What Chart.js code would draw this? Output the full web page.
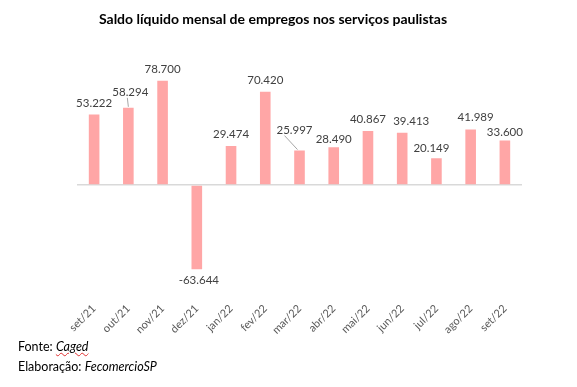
<!DOCTYPE html>
<html>
<head>
<meta charset="utf-8">
<script src="https://cdn.jsdelivr.net/npm/chart.js@4"></script>
<style>
  body { margin: 0; background: #fff; }
  #wrap { position: relative; width: 577px; height: 387px; }
  .note { position: absolute; left: 18px; font: 12.5px Lato, sans-serif; color: #000; }
  .caged { font-style: italic; text-decoration: underline wavy #e03030; text-decoration-thickness: 1px; }
</style>
</head>
<body>
<div id="wrap">
  <canvas id="saldoChart" width="577" height="387"></canvas>
  <div class="note" style="top:339px">Fonte: <span class="caged">Caged</span></div>
  <div class="note" style="top:359px">Elaboração: <i>FecomercioSP</i></div>
</div>
<script>
const months = ['set/21', 'out/21', 'nov/21', 'dez/21', 'jan/22', 'fev/22', 'mar/22',
                'abr/22', 'mai/22', 'jun/22', 'jul/22', 'ago/22', 'set/22'];
const saldo = [53222, 58294, 78700, -63644, 29474, 70420, 25997,
               28490, 40867, 39413, 20149, 41989, 33600];

function fmt(v) {
  return String(v).replace(/\B(?=(\d{3})+(?!\d))/g, '.');
}

// labels moved by hand in the original (dx, dy in px), some with a leader line
const nudge = { 1: [2, -4, true], 6: [-5, -9, true], 7: [0, 4], 9: [9, 0],
                10: [-5, 2], 11: [5, 0], 12: [0, 3] };

const valueLabels = {
  id: 'valueLabels',
  afterDatasetsDraw(chart) {
    const ctx = chart.ctx;
    const meta = chart.getDatasetMeta(0);
    ctx.save();
    ctx.font = '11.5px Lato, sans-serif';
    ctx.fillStyle = '#404040';
    ctx.textAlign = 'center';
    meta.data.forEach((bar, i) => {
      const v = saldo[i];
      const [dx, dy, leader] = nudge[i] || [0, 0, false];
      if (v >= 0) {
        ctx.textBaseline = 'alphabetic';
        const ty = bar.y - 8 + dy;
        ctx.fillText(fmt(v), bar.x + dx, ty);
        if (leader) {
          ctx.strokeStyle = '#a6a6a6';
          ctx.lineWidth = 1;
          ctx.beginPath();
          ctx.moveTo(bar.x + dx - (dx < 0 ? 10 : 3), ty + 2);
          ctx.lineTo(bar.x - (dx < 0 ? 2 : 0), bar.y - 1);
          ctx.stroke();
        }
      } else {
        ctx.textBaseline = 'top';
        ctx.fillText(fmt(v), bar.x + 2, bar.y + 5);
      }
    });
    ctx.restore();
  }
};

const saldoCanvas = document.getElementById('saldoChart').getContext('2d');
const saldoChart = new Chart(saldoCanvas, {
  type: 'bar',
  data: {
    labels: months,
    datasets: [{
      data: saldo,
      backgroundColor: '#ffa6a6',
      barPercentage: 0.31,
      categoryPercentage: 1
    }]
  },
  options: {
    responsive: false,
    animation: false,
    layout: { padding: { left: 24, right: 55, top: 0, bottom: 45 } },
    plugins: {
      legend: { display: false },
      tooltip: { enabled: false },
      title: {
        display: true,
        text: 'Saldo líquido mensal de empregos nos serviços paulistas',
        color: '#000',
        font: { family: 'Lato', size: 14, weight: 'bold' },
        padding: { top: 11, bottom: 38 }
      }
    },
    scales: {
      x: {
        grid: { display: false },
        border: { display: false },
        ticks: {
          color: '#595959',
          font: { family: 'Lato', size: 11 },
          minRotation: 45,
          maxRotation: 45,
          autoSkip: false
        },
        afterFit: s => { s.height = 51; }
      },
      y: {
        min: -80000,
        max: 90000,
        border: { display: false },
        ticks: { display: false, stepSize: 10000 },
        grid: {
          drawTicks: false,
          lineWidth: 1.5,
          color: c => c.tick && c.tick.value === 0 ? '#d9d9d9' : 'rgba(0,0,0,0)'
        },
        afterFit: s => { s.width = 53; }
      }
    }
  },
  plugins: [valueLabels]
});
</script>
</body>
</html>
